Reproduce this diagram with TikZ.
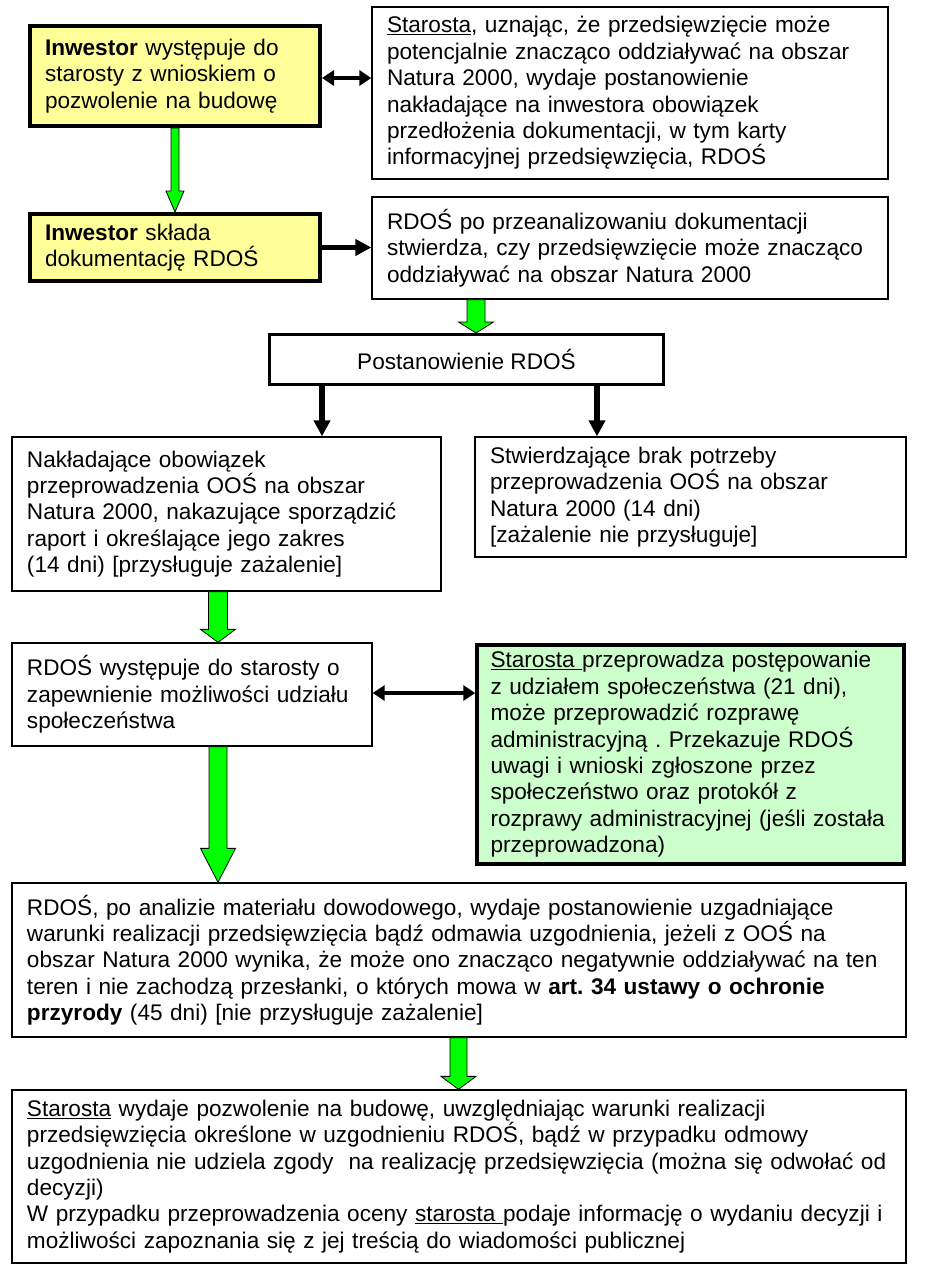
\documentclass[tikz,border=0pt]{standalone}
\usepackage{fontspec}
\setmainfont{Liberation Sans}
\usepackage{tikz}
\usetikzlibrary{arrows.meta}
\usetikzlibrary{calc}
\frenchspacing

\definecolor{paleyellow}{RGB}{255,255,153}
\definecolor{palegreen}{RGB}{204,255,204}
\definecolor{arrowgreen}{RGB}{0,255,0}

% green block arrow: x, from node, to node, half shaft, half head, head length
\newcommand{\greenarrow}[6]{%
  \filldraw[fill=arrowgreen, draw=black, line width=0.8pt, line join=miter]
    let \p1=(#2.south), \p2=(#3.north) in
    ({#1pt-#4pt},\y1) -- ({#1pt-#4pt},{\y2+#6pt}) -- ({#1pt-#5pt},{\y2+#6pt})
    -- ({#1pt},\y2) -- ({#1pt+#5pt},{\y2+#6pt}) -- ({#1pt+#4pt},{\y2+#6pt})
    -- ({#1pt+#4pt},\y1) -- cycle;}

\begin{document}
\begin{tikzpicture}[x=1pt, y=-1pt,
        every node/.style={font=\fontsize{22.6}{26.4}\selectfont, inner xsep=15pt, inner ysep=0pt},
        yellowbox/.style={rectangle, draw=black, fill=paleyellow, line width=4pt, align=left},
        plainbox/.style={rectangle, draw=black, fill=white, line width=1.3pt, align=left},
        greenbox/.style={rectangle, draw=black, fill=palegreen, line width=3.5pt, align=left, inner xsep=13.5pt},
        postbox/.style={rectangle, draw=black, fill=white, line width=3pt, align=center},
        blkarrow/.style={-{Triangle[length=16pt, width=16pt]}, line width=5.5pt},
        dblarrow/.style={{Triangle[length=12pt, width=15pt]}-{Triangle[length=12pt, width=15pt]}, line width=4.5pt}
      ]
        \useasboundingbox (0,0) rectangle (944,1274);
        \fill[white] (0,0) rectangle (944,1274);

        \node[yellowbox, minimum width=290pt, minimum height=100pt, text width=260pt]  (inwestor)   at (175,76)
          {\textbf{Inwestor} występuje do\\starosty z wnioskiem o\\pozwolenie na budowę};
        \node[plainbox, minimum width=516pt, minimum height=172pt, text width=486pt]   (starosta)   at (630,93)
          {\underline{Starosta}, uznając, że przedsięwzięcie może\\potencjalnie znacząco oddziaływać na obszar\\Natura 2000, wydaje postanowienie\\nakładające na inwestora obowiązek\\przedłożenia dokumentacji, w tym karty\\informacyjnej przedsięwzięcia, RDOŚ};
        \node[yellowbox, minimum width=290pt, minimum height=67pt, text width=260pt]   (sklada)     at (175,247.5)
          {\textbf{Inwestor} składa\\dokumentację RDOŚ};
        \node[plainbox, minimum width=516pt, minimum height=102pt, text width=486pt]   (analiza)    at (630,248)
          {RDOŚ po przeanalizowaniu dokumentacji\\stwierdza, czy przedsięwzięcie może znacząco\\oddziaływać na obszar Natura 2000};
        \node[postbox, minimum width=394pt, minimum height=50pt]                       (postan)     at (466.5,359.5)
          {Postanowienie RDOŚ};
        \node[plainbox, minimum width=429pt, minimum height=154pt, text width=399pt]   (naklada)    at (226.5,514)
          {Nakładające obowiązek\\przeprowadzenia OOŚ na obszar\\Natura 2000, nakazujące sporządzić\\raport i określające jego zakres\\(14 dni) [przysługuje zażalenie]};
        \node[plainbox, minimum width=431pt, minimum height=120pt, text width=401pt]   (brak)       at (690.5,497)
          {Stwierdzające brak potrzeby\\przeprowadzenia OOŚ na obszar\\Natura 2000 (14 dni)\\{}[zażalenie nie przysługuje]};
        \node[plainbox, minimum width=360pt, minimum height=103pt, text width=330pt]   (udzial)     at (192,694.5)
          {RDOŚ występuje do starosty o\\zapewnienie możliwości udziału\\społeczeństwa};
        \node[greenbox, minimum width=427pt, minimum height=219pt, text width=400pt]   (spoleczne)  at (690.5,754.5)
          {\underline{Starosta\ }przeprowadza postępowanie\\z udziałem społeczeństwa (21 dni),\\może przeprowadzić rozprawę\\administracyjną . Przekazuje RDOŚ\\uwagi i wnioski zgłoszone przez\\społeczeństwo oraz protokół z\\rozprawy administracyjnej (jeśli została\\przeprowadzona)};
        \node[plainbox, minimum width=894pt, minimum height=154pt, text width=864pt]   (uzgodnienie) at (459,960)
          {RDOŚ, po analizie materiału dowodowego, wydaje postanowienie uzgadniające\\warunki realizacji przedsięwzięcia bądź odmawia uzgodnienia, jeżeli z OOŚ na\\obszar Natura 2000 wynika, że może ono znacząco negatywnie oddziaływać na ten\\teren i nie zachodzą przesłanki, o których mowa w \textbf{art. 34 ustawy o ochronie}\\\textbf{przyrody} (45 dni) [nie przysługuje zażalenie]};
        \node[plainbox, minimum width=894pt, minimum height=173pt, text width=864pt]   (pozwolenie) at (459,1176.5)
          {\underline{Starosta} wydaje pozwolenie na budowę, uwzględniając warunki realizacji\\przedsięwzięcia określone w uzgodnieniu RDOŚ, bądź w przypadku odmowy\\uzgodnienia nie udziela zgody\ \ na realizację przedsięwzięcia (można się odwołać od\\decyzji)\\W przypadku przeprowadzenia oceny \underline{starosta\ }podaje informację o wydaniu decyzji i\\możliwości zapoznania się z jej treścią do wiadomości publicznej};

        \draw[dblarrow]  ([yshift=-2pt]inwestor.east) -- ([yshift=-2pt]inwestor.east -| starosta.west);
        \draw[blkarrow]  (sklada.east) -- (sklada.east -| analiza.west);
        \draw[blkarrow]  (322,0 |- postan.south) -- (322,0 |- naklada.north);
        \draw[blkarrow]  (597,0 |- postan.south) -- (597,0 |- brak.north);
        \draw[dblarrow]  ([yshift=1.5pt]udzial.east) -- ([yshift=1.5pt]udzial.east -| spoleczne.west);

        \greenarrow{175}{inwestor}{sklada}{4}{9}{21}
        \greenarrow{476}{analiza}{postan}{9}{17.5}{11}
        \greenarrow{218}{naklada}{udzial}{9.5}{17.5}{13}
        \greenarrow{218}{udzial}{uzgodnienie}{9}{17.5}{34}
        \greenarrow{458.5}{uzgodnienie}{pozwolenie}{8.5}{17.5}{13}
      \end{tikzpicture}
\end{document}
